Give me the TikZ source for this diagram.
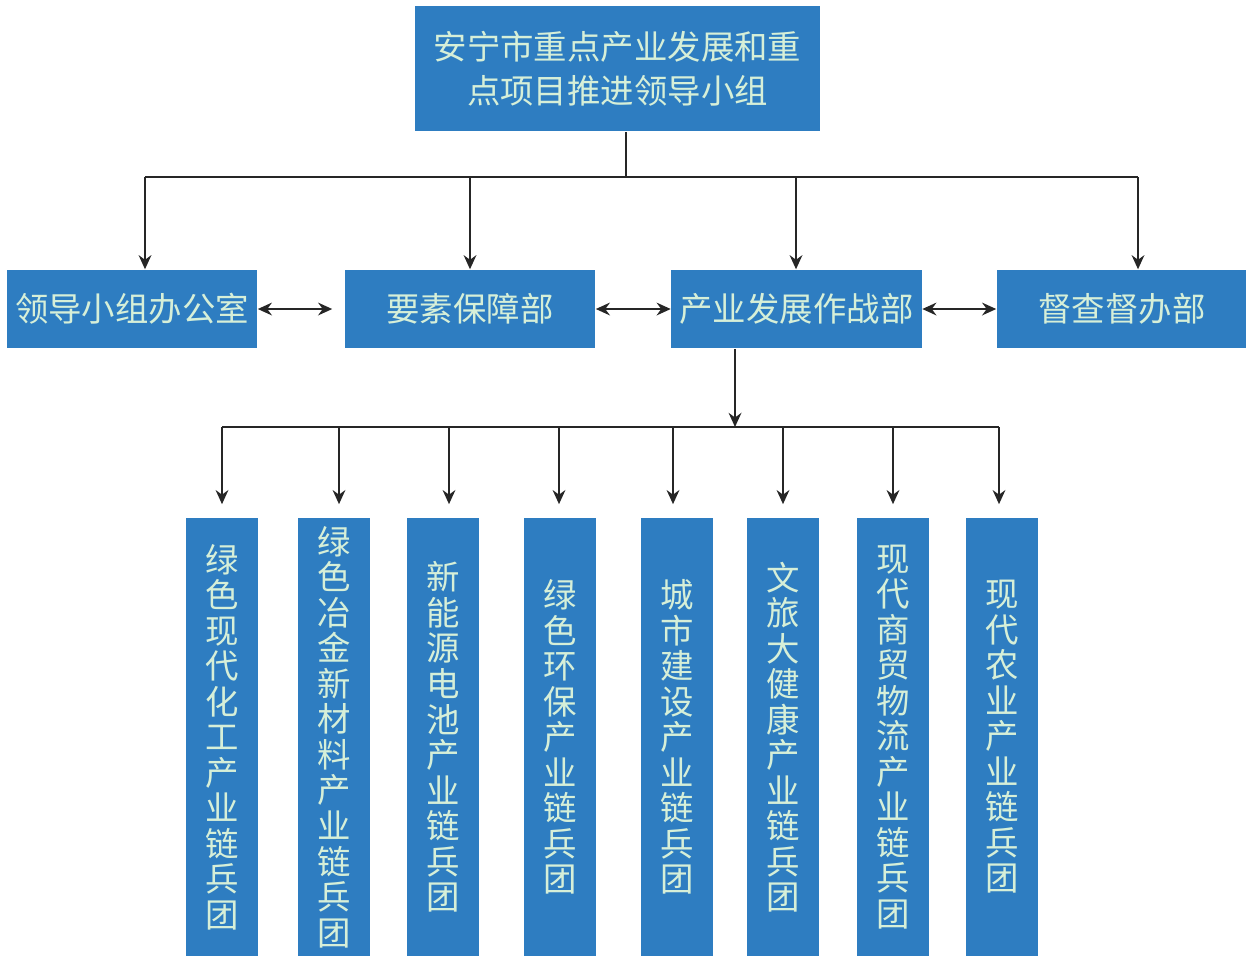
\documentclass[tikz,border=0pt]{standalone}
\usepackage{fontspec}
\setmainfont{Noto Sans CJK SC}
\usetikzlibrary{arrows.meta}
\definecolor{boxblue}{HTML}{2E7DC1}
\definecolor{boxtext}{HTML}{D6EFD8}

\begin{document}
\begin{tikzpicture}[
  x=0.01cm, y=-0.01cm,
  >={Stealth[length=4pt, width=3.6pt]},
  every node/.style={font=\fontsize{9.5}{12.5}\selectfont},
  box/.style={fill=boxblue, text=boxtext, inner sep=0pt, align=center},
  lead/.style={box, minimum width=2.5cm, minimum height=0.78cm},
  corps/.style={box, minimum width=0.71cm, minimum height=4.38cm, font=\fontsize{9.5}{10.1}\selectfont},
  link/.style={line width=0.7pt, draw=black!85}
]
\useasboundingbox (0,0) rectangle (1246,956);

% Top: leading group
\node[box, minimum width=4.05cm, minimum height=1.25cm] (group) at (617.5,68.5) {安宁市重点产业发展和重\\点项目推进领导小组};

% Middle row: departments
\node[lead] (office) at (132,309) {领导小组办公室};
\node[lead] (factor) at (470,309) {要素保障部};
\node[lead] (battle) at (796.5,309) {产业发展作战部};
\node[lead] (inspect) at (1122,309) {督查督办部};

% Bottom row: industry chain corps
\node[corps] (c1) at (222,737) {绿\\色\\现\\代\\化\\工\\产\\业\\链\\兵\\团};
\node[corps] (c2) at (334,737) {绿\\色\\冶\\金\\新\\材\\料\\产\\业\\链\\兵\\团};
\node[corps] (c3) at (443,737) {新\\能\\源\\电\\池\\产\\业\\链\\兵\\团};
\node[corps] (c4) at (560,737) {绿\\色\\环\\保\\产\\业\\链\\兵\\团};
\node[corps] (c5) at (677,737) {城\\市\\建\\设\\产\\业\\链\\兵\\团};
\node[corps] (c6) at (783,737) {文\\旅\\大\\健\\康\\产\\业\\链\\兵\\团};
\node[corps] (c7) at (893,737) {现\\代\\商\\贸\\物\\流\\产\\业\\链\\兵\\团};
\node[corps] (c8) at (1002,737) {现\\代\\农\\业\\产\\业\\链\\兵\\团};

% Upper bus
\coordinate (hub) at (626,177);
\coordinate (a1) at (145,177);
\coordinate (a2) at (470,177);
\coordinate (a3) at (796,177);
\coordinate (a4) at (1138,177);
\draw[link] (group.south -| hub) -- (hub);
\draw[link] (a1) -- (a4);
\foreach \a/\n in {a1/office, a2/factor, a3/battle, a4/inspect}
  \draw[link, ->] (\a) -- (\a |- \n.north);

% Links between departments
\draw[link, <->, shorten >=0.12cm] (office) -- (factor);
\draw[link, <->] (factor) -- (battle);
\draw[link, <->] (battle) -- (inspect);

% Lower bus
\coordinate (drop) at (735,427);
\coordinate (b1) at (222,427);
\coordinate (b2) at (339,427);
\coordinate (b3) at (449,427);
\coordinate (b4) at (559,427);
\coordinate (b5) at (673,427);
\coordinate (b6) at (783,427);
\coordinate (b7) at (893,427);
\coordinate (b8) at (999,427);
\draw[link, ->] (battle.south -| drop) -- (drop);
\draw[link] (b1) -- (b8);
\foreach \b/\n in {b1/c1, b2/c2, b3/c3, b4/c4, b5/c5, b6/c6, b7/c7, b8/c8}
  \draw[link, ->, shorten >=0.13cm] (\b) -- (\b |- \n.north);

\end{tikzpicture}
\end{document}
